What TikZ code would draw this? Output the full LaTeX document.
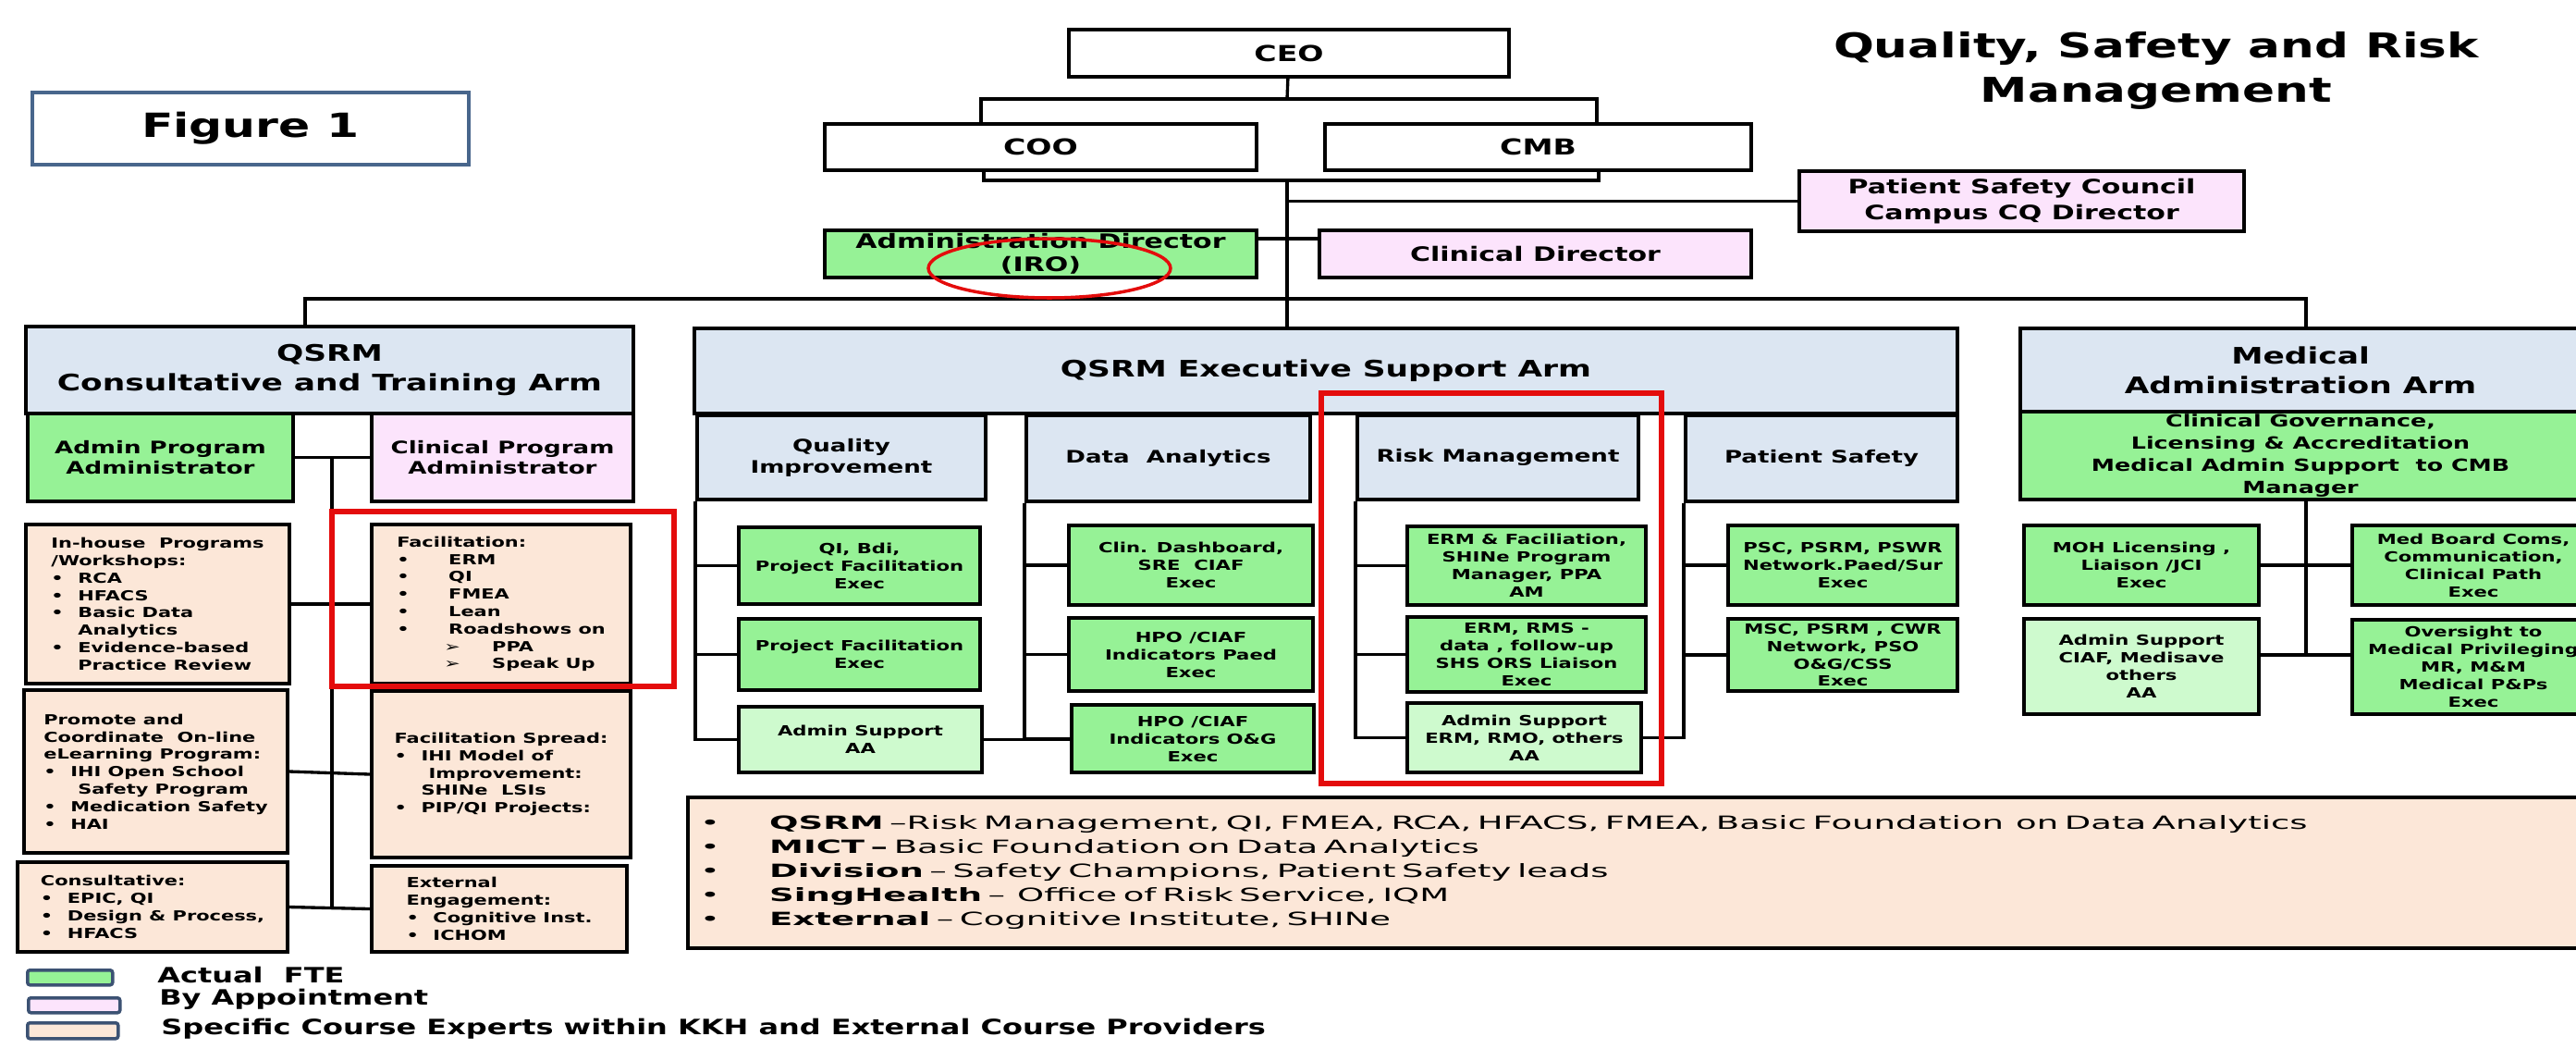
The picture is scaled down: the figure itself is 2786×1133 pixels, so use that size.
\documentclass[tikz,border=0pt]{standalone}
\usepackage{fontspec}
\setmainfont{DejaVu Sans}[FakeStretch=1.4]
\newfontfamily\widefont{DejaVu Sans}[FakeStretch=1.88]
\definecolor{headblue}{RGB}{220,230,242}
\definecolor{ftegreen}{RGB}{150,242,150}
\definecolor{aagreen}{RGB}{206,250,206}
\definecolor{apptpink}{RGB}{252,228,252}
\definecolor{coursepeach}{RGB}{252,231,216}
\definecolor{legendblue}{RGB}{60,82,115}
\definecolor{figblue}{RGB}{72,102,140}
\definecolor{markred}{RGB}{228,12,12}
\newcommand{\bitem}{\makebox[0.58cm][l]{\textbullet}}
\newcommand{\bskip}{\hspace*{0.58cm}}
\tikzset{
  box/.style={draw, line width=2.3pt, anchor=north west, inner sep=0pt, align=center,
    font=\bfseries\fontsize{8.6}{10.8}\selectfont},
  sz/.style 2 args={minimum width=#1*0.02cm, minimum height=#2*0.02cm},
  topbox/.style={box, fill=white, font=\bfseries\fontsize{13.5}{16}\selectfont},
  armbox/.style={box, fill=headblue, font=\bfseries\fontsize{14}{18.4}\selectfont},
  unitbox/.style={box, fill=headblue, unitfont},
  ftebox/.style={box, fill=ftegreen},
  aabox/.style={box, fill=aagreen},
  apptbox/.style={box, fill=apptpink},
  coursebox/.style={box, fill=coursepeach, align=left, font=\bfseries\fontsize{8.5}{10.7}\selectfont},
  dirfont/.style={font=\bfseries\fontsize{12.2}{14.5}\selectfont},
  unitfont/.style={font=\bfseries\fontsize{10.6}{13}\selectfont},
  link/.style={line width=1.9pt},
  redmark/.style={draw=markred, line width=3.2pt},
  swatch/.style={draw=legendblue, line width=2pt, rounded corners=1.5pt, anchor=north west, inner sep=0pt},
  legtext/.style={anchor=base west, inner sep=0pt, font=\bfseries\fontsize{13}{15}\selectfont}
}

\begin{document}
\begin{tikzpicture}[x=0.02cm, y=-0.02cm]
  \useasboundingbox (0,0) rectangle (2786,1133);
  \clip (0,0) rectangle (2786,1133);

  % tag and title
  \node[box, draw=figblue, line width=2pt, sz={472}{78}, font=\bfseries\fontsize{20.5}{24}\selectfont] (fig) at (33,98) {Figure 1};
  \node[align=center, font=\bfseries\fontsize{21}{27.3}\selectfont] (title) at (2332,76) {Quality, Safety and Risk\\Management};

  % top of the chart
  \node[topbox, sz={476}{51}] (ceo) at (1154,30) {CEO};
  \node[topbox, sz={467}{50}] (coo) at (890,132) {COO};
  \node[topbox, sz={461}{50}] (cmb) at (1431,132) {CMB};
  \node[apptbox, font=\bfseries\fontsize{12.2}{16}\selectfont, sz={481}{65}] (psc) at (1944,183) {Patient Safety Council\\Campus CQ Director};
  \node[ftebox, dirfont, sz={467}{51}] (adm) at (890,247) {Administration Director\\(IRO)};
  \node[apptbox, dirfont, sz={467}{51}] (cld) at (1425,247) {Clinical Director};

  \coordinate (tj) at (1392,107);
  \coordinate (cooup) at (1061,107);
  \coordinate (cmbup) at (1727,107);
  \coordinate (coodn) at (1064,195);
  \coordinate (cmbdn) at (1729,195);
  \coordinate (spine) at (1392,323);
  \coordinate (dirrow) at (1392,258);
  \coordinate (armL) at (330,323);
  \coordinate (armR) at (2494,323);
  \draw[link] (ceo) -- (tj);
  \draw[link] (coo.north -| cooup) -- (cooup) -- (cmbup) -- (cmb.north -| cmbup);
  \draw[link] (coo.south -| coodn) -- (coodn) -- (cmbdn) -- (cmb.south -| cmbdn);
  \draw[link] (spine |- coodn) -- (spine);
  \draw[link] (spine |- psc.west) -- (psc.west);
  \draw[link] (adm.east |- dirrow) -- (cld.west |- dirrow);

  % three arms
  \node[armbox, sz={657}{94}] (consarm) at (26,351) {QSRM\\Consultative and Training Arm};
  \node[armbox, sz={1366}{92}] (execarm) at (749,353) {QSRM Executive Support Arm};
  \node[armbox, sz={606}{90}] (medarm) at (2183,353) {Medical\\Administration Arm};
  \draw[link] (armL |- consarm.north) -- (armL) -- (armR) -- (armR |- medarm.north);
  \draw[link] (spine) -- (execarm.north -| spine);

  % consultative and training arm
  \node[ftebox, unitfont, sz={287}{95}] (apa) at (28,445) {Admin Program\\Administrator};
  \node[apptbox, unitfont, sz={283}{95}] (cpa) at (400,445) {Clinical Program\\Administrator};
  \node[coursebox, sz={285}{172}] (inh) at (26,565) {In-house\ \ Programs\\/Workshops:\\\bitem RCA\\\bitem HFACS\\\bitem Basic Data\\\bskip Analytics\\\bitem Evidence-based\\\bskip Practice Review};
  \node[coursebox, sz={280}{172}] (facil) at (400,565) {Facilitation:\\\makebox[1.12cm][l]{\textbullet}ERM\\\makebox[1.12cm][l]{\textbullet}QI\\\makebox[1.12cm][l]{\textbullet}FMEA\\\makebox[1.12cm][l]{\textbullet}Lean\\\makebox[1.12cm][l]{\textbullet}Roadshows on\\\hspace*{1.02cm}\makebox[1.04cm][l]{➢}PPA\\\hspace*{1.02cm}\makebox[1.04cm][l]{➢}Speak Up};
  \node[coursebox, sz={285}{176}] (promo) at (24,744) {Promote and\\Coordinate\ \ On-line\\eLearning Program:\\\bitem IHI Open School\\\hspace*{0.74cm}Safety Program\\\bitem Medication Safety\\\bitem HAI};
  \node[coursebox, sz={280}{180}] (spread) at (400,745) {Facilitation Spread:\\\bitem IHI Model of\\\hspace*{0.74cm}Improvement:\\\bskip SHINe\ \ LSIs\\\bitem PIP/QI Projects:};
  \node[coursebox, sz={292}{97}] (consult) at (17,930) {Consultative:\\\bitem EPIC, QI\\\bitem Design \& Process,\\\bitem HFACS};
  \node[coursebox, sz={276}{93}] (extern) at (400,934) {External\\Engagement:\\\bitem Cognitive Inst.\\\bitem ICHOM};
  \coordinate (lv) at (359,493);
  \draw[link] (apa.east) -- (cpa.west);
  \draw[link] (lv) -- (lv |- consult.east);
  \foreach \a/\b in {inh/facil, promo/spread, consult/extern}
    \draw[link] (\a.east) -- (\b.west);

  % executive support arm
  \node[unitbox, sz={312}{91}] (qih) at (752,447) {Quality\\Improvement};
  \node[unitbox, sz={307}{93}] (dah) at (1108,447) {Data\ \ Analytics};
  \node[unitbox, sz={304}{91}] (rmh) at (1466,447) {Risk Management};
  \node[unitbox, sz={294}{93}] (psh) at (1821,447) {Patient Safety};

  \node[ftebox, sz={261}{83}] (qi1) at (797,568) {QI, Bdi,\\Project Facilitation\\Exec};
  \node[ftebox, sz={261}{77}] (qi2) at (797,667) {Project Facilitation\\Exec};
  \node[aabox, sz={263}{71}] (qi3) at (797,762) {Admin Support\\AA};
  \node[ftebox, sz={264}{86}] (da1) at (1154,566) {Clin. Dashboard,\\SRE\ \ CIAF\\Exec};
  \node[ftebox, sz={264}{79}] (da2) at (1154,666) {HPO /CIAF\\Indicators Paed\\Exec};
  \node[ftebox, sz={262}{73}] (da3) at (1157,760) {HPO /CIAF\\Indicators O\&G\\Exec};
  \node[ftebox, sz={258}{85}] (rm1) at (1520,567) {ERM \& Faciliation,\\SHINe Program\\Manager, PPA\\AM};
  \node[ftebox, sz={258}{81}] (rm2) at (1520,665) {ERM, RMS -\\data , follow-up\\SHS ORS Liaison\\Exec};
  \node[aabox, sz={253}{75}] (rm3) at (1520,758) {Admin Support\\ERM, RMO, others\\AA};
  \node[ftebox, sz={248}{86}] (ps1) at (1867,566) {PSC, PSRM, PSWR\\Network.Paed/Sur\\Exec};
  \node[ftebox, sz={248}{78}] (ps2) at (1867,667) {MSC, PSRM , CWR\\Network, PSO\\O\&G/CSS\\Exec};

  \draw[link] (qih.south west) |- (qi3.west);
  \foreach \n in {qi1,qi2} \draw[link] (\n.west) -- (\n.west -| qih.west);
  \draw[link] (dah.south west) |- (da3.west);
  \foreach \n in {da1,da2} \draw[link] (\n.west) -- (\n.west -| dah.west);
  \draw[link] (qi3.east) -- (qi3.east -| da3.west);
  \draw[link] (rmh.south west) |- (rm3.west);
  \foreach \n in {rm1,rm2} \draw[link] (\n.west) -- (\n.west -| rmh.west);
  \draw[link] (psh.south west) |- (rm3.east);
  \foreach \n in {ps1,ps2} \draw[link] (\n.west) -- (\n.west -| psh.west);

  % medical administration arm
  \node[ftebox, font=\bfseries\fontsize{10.3}{13.7}\selectfont, sz={606}{95}] (cg) at (2183,443) {Clinical Governance,\\Licensing \& Accreditation\\Medical Admin Support\ \ to CMB\\Manager};
  \node[ftebox, sz={254}{86}] (moh) at (2187,566) {MOH Licensing ,\\Liaison /JCI\\Exec};
  \node[ftebox, sz={262}{86}] (mbc) at (2542,566) {Med Board Coms,\\Communication,\\Clinical Path\\Exec};
  \node[aabox, sz={254}{103}] (ciaf) at (2187,667) {Admin Support\\CIAF, Medisave\\others\\AA};
  \node[ftebox, sz={262}{102}] (ovs) at (2542,668) {Oversight to\\Medical Privileging\\MR, M\&M\\Medical P\&Ps\\Exec};
  \coordinate (mv) at (2494,708);
  \draw[link] (cg.south -| mv) -- (mv);
  \draw[link] (moh.east) -- (mbc.west);
  \draw[link] (ciaf.east |- mv) -- (ovs.west |- mv);

  % course providers
  \node[box, fill=coursepeach, sz={2058}{163}, align=left, text width=40.64cm, inner xsep=0.26cm,
    font=\widefont\fontsize{11.2}{14.8}\selectfont] (notes) at (742,860) {%
    \makebox[1.5cm][l]{\textbullet}\textbf{QSRM} –Risk Management, QI, FMEA, RCA, HFACS, FMEA, Basic Foundation\ \ on Data Analytics\\
    \makebox[1.5cm][l]{\textbullet}\textbf{MICT –} Basic Foundation on Data Analytics\\
    \makebox[1.5cm][l]{\textbullet}\textbf{Division} – Safety Champions, Patient Safety leads\\
    \makebox[1.5cm][l]{\textbullet}\textbf{SingHealth} –\ \ Office of Risk Service, IQM\\
    \makebox[1.5cm][l]{\textbullet}\textbf{External} – Cognitive Institute, SHINe};

  % legend
  \node[swatch, fill=ftegreen, sz={92}{16}] (lgfte) at (28,1047) {};
  \node[swatch, fill=apptpink, sz={99}{16}] (lgappt) at (29,1077) {};
  \node[swatch, fill=coursepeach, sz={98}{17}] (lgcourse) at (28,1104) {};
  \node[legtext] (lgftetxt) at (170,1062) {Actual\ \ FTE};
  \node[legtext] (lgappttxt) at (172,1086) {By Appointment};
  \node[legtext] (lgcoursetxt) at (174,1118) {Specific Course Experts within KKH and External Course Providers};

  % highlights
  \draw[redmark] (359,553) rectangle (729,742);
  \draw[redmark] (1429,425) rectangle (1797,847);
  \draw[draw=markred, line width=2pt] (1135,290) ellipse [x radius=2.62cm, y radius=0.64cm];
\end{tikzpicture}
\end{document}
